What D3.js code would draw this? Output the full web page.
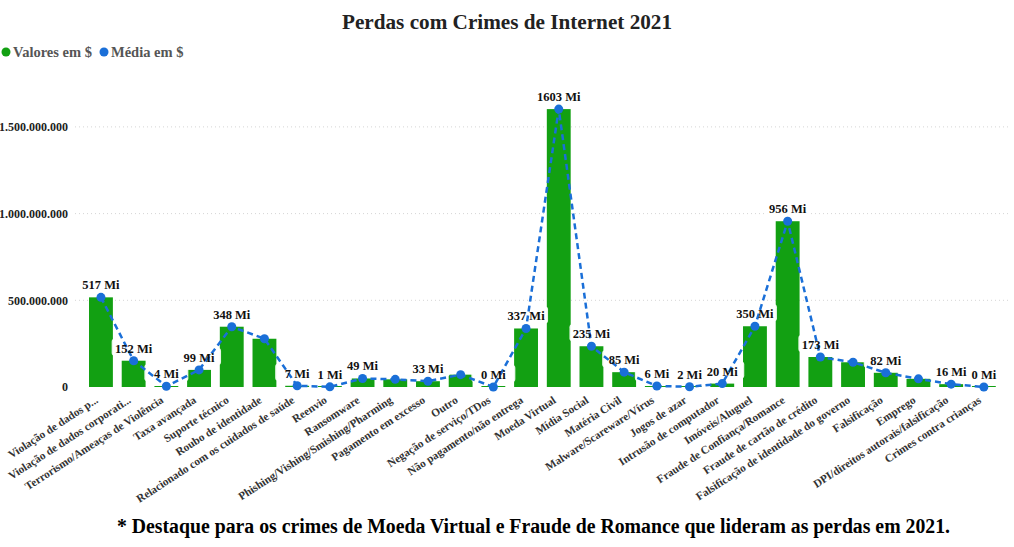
<!DOCTYPE html>
<html><head><meta charset="utf-8">
<script src="https://cdn.jsdelivr.net/npm/d3@7"></script>
<style>body{margin:0;background:#fff}svg{display:block}</style>
</head><body><svg id="c" width="1014" height="547"></svg>
<script>
const categories = ["Violação de dados p...","Violação de dados corporati...","Terrorismo/Ameaças de Violência","Taxa avançada","Suporte técnico","Roubo de identidade","Relacionado com os cuidados de saúde","Reenvio","Ransomware","Phishing/Vishing/Smishing/Pharming","Pagamento em excesso","Outro","Negação de serviço/TDos","Não pagamento/não entrega","Moeda Virtual","Mídia Social","Matéria Civil","Malware/Scareware/Vírus","Jogos de azar","Intrusão de computador","Imóveis/Aluguel","Fraude de Confiança/Romance","Fraude de cartão de crédito","Falsificação de identidade do governo","Falsificação","Emprego","DPI/direitos autorais/falsificação","Crimes contra crianças"];
const valores = [517021289,151568225,4390153,98694137,347657432,278267918,7042467,1095140,49207908,44213707,33407671,71209273,217981,337493071,1602647713,235000000,85447187,5596889,1602563,19603605,350328166,956039739,172998385,142643253,82000000,47231023,16365011,198576];
const media = valores.slice();
const hiddenLabels = ["Roubo de identidade","Phishing/Vishing/Smishing/Pharming","Outro","Falsificação de identidade do governo","Emprego"];
const yTicks = [0,500000000,1000000000,1500000000];

const svg = d3.select("#c");
const serif = "'Liberation Serif','Times New Roman',serif";
const green = "#12a012", blue = "#1a6fd8";

const x = d3.scaleBand().domain(categories).range([84.6, 84.6+28*32.7]).paddingInner(0.27).paddingOuter(0.135);
const y = d3.scaleLinear().domain([0,1700000000]).range([387, 387-1700000000*0.1734e-6]);

// title
svg.append("text").attr("x",507).attr("y",29).attr("text-anchor","middle")
  .attr("font-family",serif).attr("font-weight","bold").attr("font-size",21).attr("fill","#222")
  .attr("textLength",330).attr("lengthAdjust","spacingAndGlyphs")
  .text("Perdas com Crimes de Internet 2021");

// legend
const leg = svg.append("g").attr("font-family",serif).attr("font-weight","bold").attr("font-size",14.5).attr("fill","#555");
leg.append("circle").attr("cx",6).attr("cy",52).attr("r",4.5).attr("fill",green);
leg.append("text").attr("x",13).attr("y",57).text("Valores em $");
leg.append("circle").attr("cx",104).attr("cy",52).attr("r",4.5).attr("fill",blue);
leg.append("text").attr("x",111).attr("y",57).text("Média em $");

// grid + y axis
const yAxis = d3.axisLeft(y).tickValues(yTicks).tickSize(0).tickPadding(0)
  .tickFormat(d => d3.format(",")(d).replace(/,/g,"."));
const ga = svg.append("g").attr("transform","translate(68,0)").call(yAxis);
ga.select(".domain").remove();
ga.selectAll("text").attr("font-family",serif).attr("font-weight","bold").attr("font-size",12).attr("fill","#222");
svg.append("g").selectAll("line").data(yTicks.filter(d=>d>0)).join("line")
  .attr("x1",75).attr("x2",1010).attr("y1",d=>y(d)).attr("y2",d=>y(d))
  .attr("stroke","#d5d5d5").attr("stroke-dasharray","1,3");

// bars
svg.append("g").selectAll("rect").data(categories).join("rect")
  .attr("x",d=>x(d)).attr("width",x.bandwidth())
  .attr("y",(d,i)=>Math.min(y(valores[i]), 386))
  .attr("height",(d,i)=>Math.max(1, y(0)-y(valores[i])))
  .attr("fill",green);

// label backgrounds
const labs = categories.map((c,i)=>({c,v:media[i]})).filter(d=>!hiddenLabels.includes(d.c));
const fmt = v => Math.round(v/1e6) + " Mi";
svg.append("g").selectAll("rect").data(labs).join("rect")
  .attr("x",d=>x(d.c)+x.bandwidth()/2-22).attr("y",d=>y(d.v)-22).attr("width",44).attr("height",17).attr("rx",3)
  .attr("fill","#fff").attr("opacity",0.9);

// line
const line = d3.line().x((d,i)=>x(categories[i])+x.bandwidth()/2).y(d=>y(d));
svg.append("path").datum(media).attr("d",line).attr("fill","none").attr("stroke",blue)
  .attr("stroke-width",2.5).attr("stroke-dasharray","6,4");
svg.append("g").selectAll("circle").data(media).join("circle")
  .attr("cx",(d,i)=>x(categories[i])+x.bandwidth()/2).attr("cy",d=>y(d)).attr("r",4.5).attr("fill",blue);

// labels
svg.append("g").selectAll("text").data(labs).join("text")
  .attr("x",d=>x(d.c)+x.bandwidth()/2).attr("y",d=>y(d.v)-8).attr("text-anchor","middle")
  .attr("font-family",serif).attr("font-weight","bold").attr("font-size",12.5).attr("fill","#111")
  .text(d=>fmt(d.v));

// x labels
svg.append("g").selectAll("text").data(categories).join("text")
  .attr("transform",d=>`translate(${x(d)+x.bandwidth()/2-2},${402}) rotate(-33)`)
  .attr("text-anchor","end").attr("font-family",serif).attr("font-weight","bold").attr("font-size",11.3).attr("fill","#333")
  .text(d=>d);

// footnote
svg.append("text").attr("x",117).attr("y",533).attr("font-family",serif).attr("font-weight","bold").attr("font-size",20).attr("fill","#000")
  .attr("textLength",833).attr("lengthAdjust","spacingAndGlyphs")
  .text("* Destaque para os crimes de Moeda Virtual e Fraude de Romance que lideram as perdas em 2021.");
</script></body></html>
